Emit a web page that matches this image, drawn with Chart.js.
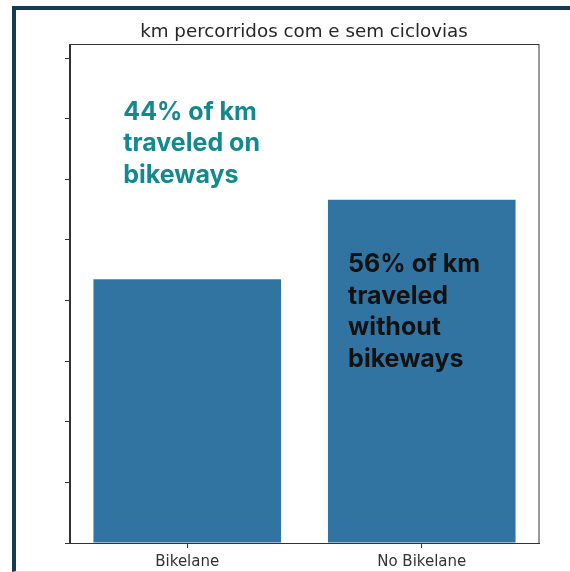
<!DOCTYPE html>
<html>
<head>
<meta charset="utf-8">
<script src="https://cdn.jsdelivr.net/npm/chart.js@4/dist/chart.umd.min.js"></script>
<style>
    body { margin: 0; background: #fff; }
    #wrap { position: relative; width: 570px; height: 572px; overflow: hidden; }
    #frame {
        position: absolute; left: 12px; top: 6px; right: 0; bottom: 0;
        border-top: 4px solid #143b50;
        border-left: 4px solid #143b50;
        border-bottom: 1px solid #e2e2e2;
    }
    #chart { position: absolute; left: 0; top: 0; }
</style>
</head>
<body>
<div id="wrap">
    <div id="frame"></div>
    <canvas id="chart" width="570" height="572"></canvas>
</div>
<script>
// values (one y tick = 1 unit)
const categories = ['Bikelane', 'No Bikelane'];
const kmValues = [4.35, 5.66];
const yMax = 8.23;
const barColor = '#3274a1';

// annotation text, anchored to a category and a y value (first baseline)
const noteLines = [
    ['44% of km', 'traveled on', 'bikeways'],
    ['56% of km', 'traveled', 'without', 'bikeways'],
];
const noteCategory = [0, 1];
const noteValue = [6.98, 4.47];
const noteColors = ['#13898f', '#111111'];

const frameBox = {
    id: 'frameBox',
    afterDraw(chart) {
        const {ctx, chartArea: a} = chart;
        ctx.save();
        ctx.strokeStyle = '#333';
        ctx.lineWidth = 1;
        ctx.strokeRect(Math.round(a.left) - 0.5, Math.round(a.top) + 0.5,
            Math.round(a.right - a.left) + 0.5, Math.round(a.bottom - a.top));
        ctx.restore();
    }
};

const notes = {
    id: 'notes',
    afterDraw(chart) {
        const ctx = chart.ctx;
        const x = chart.scales.x, y = chart.scales.y;
        const band = x.getPixelForValue(1) - x.getPixelForValue(0);
        ctx.save();
        ctx.font = 'bold 25px Inter';
        ctx.textBaseline = 'alphabetic';
        noteLines.forEach((lines, i) => {
            const cx = x.getPixelForValue(noteCategory[i]);
            // left edge a bit inside the bar
            const left = i === 0 ? cx - band * 0.273 : cx - band * 0.314;
            const top = y.getPixelForValue(noteValue[i]);
            ctx.fillStyle = noteColors[i];
            lines.forEach((t, j) => ctx.fillText(t, left, top + j * 31.6));
        });
        ctx.restore();
    }
};

new Chart(document.getElementById('chart'), {
    type: 'bar',
    data: {
        labels: categories,
        datasets: [{
            data: kmValues,
            backgroundColor: barColor,
            borderWidth: 0,
            barPercentage: 0.8,
            categoryPercentage: 1.0,
        }],
    },
    options: {
        responsive: false,
        animation: false,
        // left padding so the title centres over the axes box
        layout: { padding: { left: 69, right: 31, top: 0, bottom: 0 } },
        plugins: {
            legend: { display: false },
            tooltip: { enabled: false },
            title: {
                display: true,
                text: 'km percorridos com e sem ciclovias',
                color: '#262626',
                font: { family: 'DejaVu Sans', size: 18.3, weight: 'normal' },
                padding: { top: 21.5, bottom: 0.6 },
            },
        },
        scales: {
            x: {
                offset: true,
                afterFit: (s) => { s.height = 29; },
                grid: { offset: false, drawOnChartArea: false, drawTicks: true, tickLength: 5, color: '#333' },
                border: { display: true, color: '#333', width: 1 },
                ticks: {
                    color: '#333',
                    padding: 5,
                    font: { family: 'DejaVu Sans', size: 15 },
                },
            },
            y: {
                min: 0,
                max: yMax,
                afterFit: (s) => { s.width = 1; },
                grid: { drawOnChartArea: false, drawTicks: true, tickLength: 5, color: '#333' },
                border: { display: true, color: '#333', width: 1 },
                ticks: { display: false, stepSize: 1, includeBounds: false },
            },
        },
    },
    plugins: [frameBox, notes],
});
</script>
</body>
</html>
